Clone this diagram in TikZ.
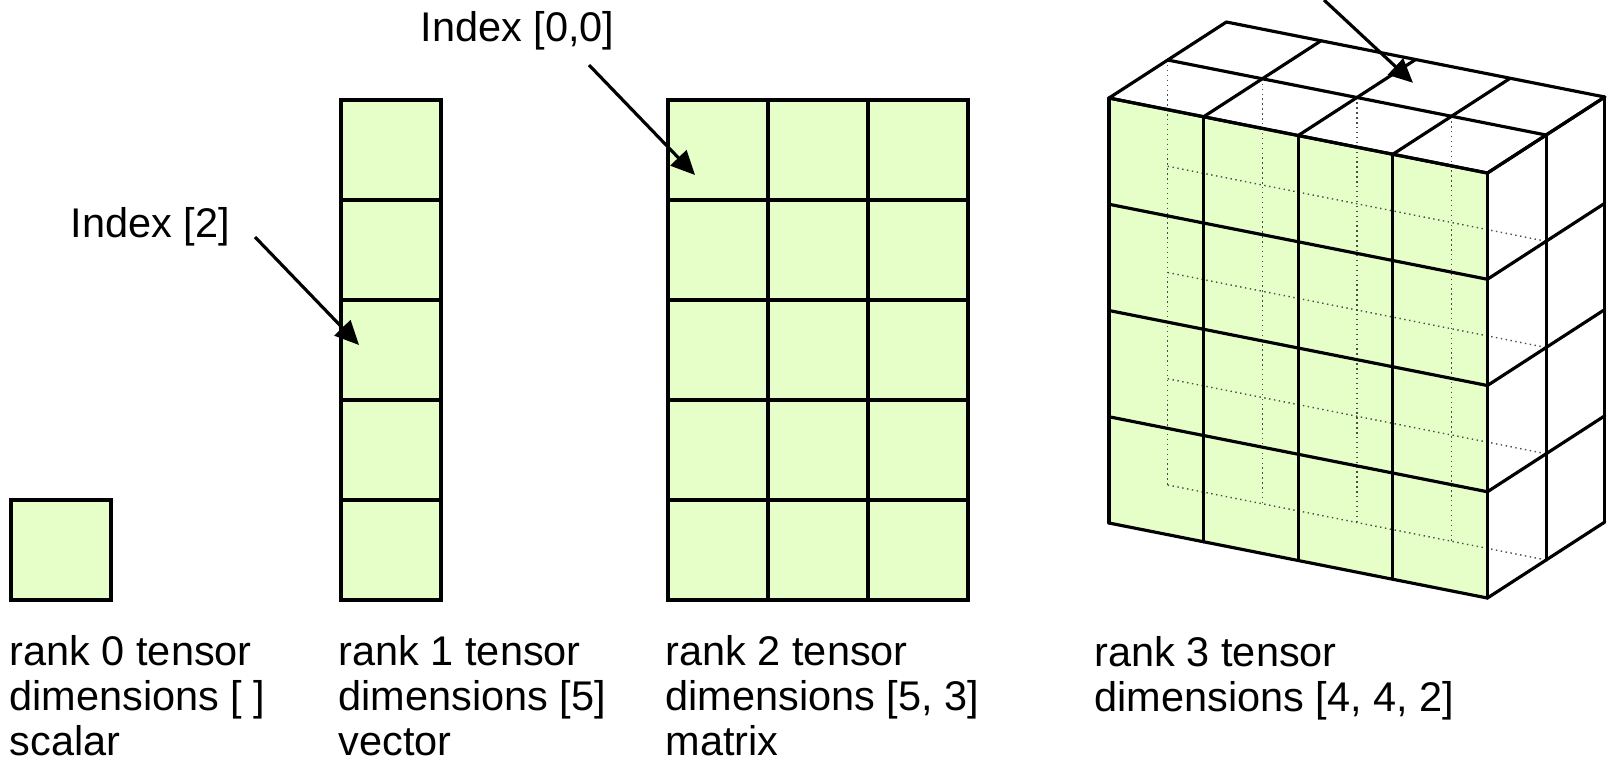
\documentclass[tikz,border=0pt]{standalone}
\usepackage{fontspec}
\setmainfont{Liberation Sans}
\usepackage{tikz}
\usetikzlibrary{
	arrows.meta,
	positioning,
	calc
}
\definecolor{cellgreen}{RGB}{230,255,200}

\begin{document}
\begin{tikzpicture}[
				cell/.style={
					rectangle, draw, fill=cellgreen, line width=0.9pt,
					minimum size=1cm, inner sep=0pt
				},
				caption/.style={
					anchor=base west, align=left, inner sep=0pt,
					font=\fontsize{11.8pt}{12.8pt}\selectfont
				},
				idxlabel/.style={
					caption
				},
				pointer/.style={-{Triangle[length=0.24cm,width=0.22cm]}, line width=0.9pt},
				edgeline/.style={line width=0.9pt, line cap=round, line join=round},
				hidden/.style={densely dotted, line width=0.4pt, black!70},
				]
				
				\fill[white, use as bounding box] (0,0) rectangle (16.11,-7.61);
				
				%rank 0
				\node[cell] (s) at (0.61,-5.5) {};
				\node[caption] (cap0) at (0.09,-7.55) {rank 0 tensor\\dimensions [ ]\\scalar};
				
				%rank 1
				\foreach \i in {0,...,4}
					\node[cell] (v\i) at (3.91,-1.5-\i) {};
				\node[caption] (cap1) at (3.38,-7.55) {rank 1 tensor\\dimensions [5]\\vector};
				
				\node[idxlabel] (idxtwo) at (0.70,-2.37) {Index [2]};
				\coordinate (tailtwo) at (2.55,-2.37);
				\draw[pointer] (tailtwo) -- ([shift={(-0.32,0.05)}]v2.center);
				
				%rank 2
				\foreach \r in {0,...,4}
					\foreach \c in {0,1,2}
						\node[cell] (m\r\c) at (7.18+\c,-1.5-\r) {};
				\node[caption] (cap2) at (6.65,-7.55) {rank 2 tensor\\dimensions [5, 3]\\matrix};
				
				\node[idxlabel] (idxzero) at (4.20,-0.417) {Index [0,0]};
				\coordinate (tailzero) at (5.89,-0.65);
				\draw[pointer] (tailzero) -- ([shift={(-0.23,-0.25)}]m00.center);
				
				%rank 3
				\begin{scope}[shift={(11.09,-0.98)}, x={(0.946cm,-0.1875cm)}, y={(0cm,-1.0625cm)}, z={(0.587cm,0.38cm)}]
					\fill[cellgreen] (0,0,0) -- (4,0,0) -- (4,4,0) -- (0,4,0) -- cycle;
					% middle layer, hidden
					\foreach \i in {0,...,3}
						\draw[hidden] (\i,0,1) -- (\i,4,1);
					\foreach \j in {1,...,4}
						\draw[hidden] (0,\j,1) -- (4,\j,1);
					% front face
					\foreach \i in {0,...,4}
						\draw[edgeline] (\i,0,0) -- (\i,4,0);
					\foreach \j in {0,...,4}
						\draw[edgeline] (0,\j,0) -- (4,\j,0);
					% top face
					\foreach \i in {0,...,4}
						\draw[edgeline] (\i,0,0) -- (\i,0,2);
					\foreach \k in {0,1,2}
						\draw[edgeline] (0,0,\k) -- (4,0,\k);
					% right face
					\foreach \k in {0,1,2}
						\draw[edgeline] (4,0,\k) -- (4,4,\k);
					\foreach \j in {0,...,4}
						\draw[edgeline] (4,\j,0) -- (4,\j,2);
					\coordinate (topcell) at (2.27,0,1.52);
				\end{scope}
				\node[caption] (cap3) at (10.94,-7.11) {rank 3 tensor\\dimensions [4, 4, 2]};
				
				\coordinate (tailthree) at (13.24,0);
				\draw[pointer] (tailthree) -- (topcell);
			\end{tikzpicture}
\end{document}
